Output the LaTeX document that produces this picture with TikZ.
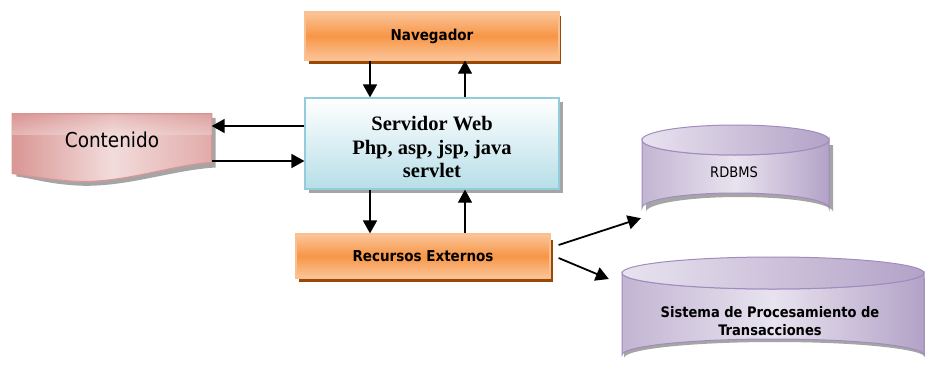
\documentclass[tikz,border=0pt]{standalone}
\usepackage{fontspec}
\setmainfont{Liberation Serif}
\newfontfamily\tah{DejaVu Sans Condensed}
\usetikzlibrary{arrows.meta,calc}
\definecolor{orLight}{HTML}{FBC59A}
\definecolor{orMid}{HTML}{F79646}
\definecolor{orBorder}{HTML}{FAC090}
\definecolor{orShadow}{HTML}{984807}
\definecolor{blBottom}{HTML}{B7DEE8}
\definecolor{blBorder}{HTML}{93CDDD}
\definecolor{pkLight}{HTML}{F2DCDB}
\definecolor{pkDark}{HTML}{D99694}
\definecolor{pkBorder}{HTML}{D99694}
\definecolor{lvLight}{HTML}{E8E3EF}
\definecolor{lvDark}{HTML}{B3A2C7}
\definecolor{lvBorder}{HTML}{A18CBD}
\definecolor{shGray}{HTML}{A5A5A5}
\tikzset{
  obox/.style={draw=orBorder, line width=1.2pt, top color=orLight, bottom color=orLight, middle color=orMid,
    font=\tah\bfseries\fontsize{15}{17}\selectfont, inner sep=0pt},
  arr/.style={-{Triangle[length=13pt,width=14pt]}, line width=1.8pt},
  arrthin/.style={-{Triangle[length=13pt,width=14pt]}, line width=1.1pt},
  ghost/.style={inner sep=0pt, align=center},
}
\begin{document}
\begin{tikzpicture}[x=1pt,y=-1pt]
\useasboundingbox (0,0) rectangle (925,383);
% ---------- Navegador
\fill[orShadow] (309,16) rectangle (561,64);
\node[obox, minimum width=254pt, minimum height=48pt] (nav) at (432,36) {Navegador};
% ---------- Servidor Web
\fill[shGray] (309,102) rectangle (563,193);
\node[draw=blBorder, line width=1.2pt, top color=white, bottom color=blBottom, minimum width=254pt, minimum height=91pt,
  inner sep=0pt] (srv) at (432,143.5) {};
\node[ghost, font=\bfseries\fontsize{20.5}{23.5}\selectfont] (srvtext) at ([yshift=-3.5pt]srv.center)
  {Servidor Web\\Php, asp, jsp, java\\servlet};
% ---------- Contenido
\node[ghost, minimum width=199pt, minimum height=51pt] (cont) at (112,139.5) {};
\fill[shGray] ($(cont.north west)+(4,4)$) -- ($(cont.north east)+(4,4)$) -- ($(cont.east)+(4,28)$)
  .. controls (170,170) and (120,190) .. (70,185) .. controls (45,183) and (30,178) .. ($(cont.west)+(4,37)$) -- cycle;
\shade[left color=pkDark, right color=pkDark!80, middle color=pkLight, draw=pkBorder, line width=1.2pt]
  (cont.north west) -- (cont.north east) -- ($(cont.east)+(0,23)$)
  .. controls (170,165) and (120,185) .. (70,181) .. controls (45,179) and (30,176) .. ($(cont.west)+(0,34)$) -- cycle;
\shade[top color=pkDark, bottom color=pkLight, opacity=0.45]
  (cont.north west) -- (cont.north east) -- ($(cont.east)+(0,-5)$) -- ($(cont.west)+(0,-5)$) -- cycle;
\node[font=\tah\fontsize{20.5}{23}\selectfont] (conttext) at (cont.center) {Contenido};
% ---------- Recursos Externos
\fill[orShadow] (299,240) rectangle (553,282);
\node[obox, minimum width=254pt, minimum height=44pt] (rec) at (423,256) {Recursos Externos};
% ---------- RDBMS cylinder
\node[ghost, minimum width=187pt, minimum height=98pt] (rdb) at (735.5,174) {};
\fill[shGray] (646,145) -- (833,145) -- (833,212) arc[start angle=0,end angle=-180,x radius=93.5,y radius=15] -- cycle;
\shade[left color=lvDark!80, right color=lvDark, middle color=lvLight, draw=lvBorder, line width=1pt]
  (642,140) -- (642,208) arc[start angle=180,end angle=360,x radius=93.5,y radius=15] -- (829,140)
  arc[start angle=0,end angle=180,x radius=93.5,y radius=15] -- cycle;
\shade[left color=lvLight, right color=lvDark, draw=lvBorder, line width=1pt] (735.5,140) ellipse[x radius=93.5,y radius=15];
\node[font=\tah\fontsize{14.5}{17}\selectfont] (rdbtext) at (734,172) {RDBMS};
% ---------- Sistema cylinder
\node[ghost, minimum width=302pt, minimum height=114pt] (sis) at (773,314) {};
\fill[shGray] (626,278) -- (926,278) -- (926,358) arc[start angle=0,end angle=-180,x radius=151,y radius=16] -- cycle;
\shade[left color=lvDark!80, right color=lvDark, middle color=lvLight, draw=lvBorder, line width=1pt]
  (622,273) -- (622,355) arc[start angle=180,end angle=360,x radius=151,y radius=16] -- (924,273)
  arc[start angle=0,end angle=180,x radius=151,y radius=16] -- cycle;
\shade[left color=lvLight, right color=lvDark, draw=lvBorder, line width=1pt] (773,273) ellipse[x radius=151,y radius=16];
\node[align=center, font=\tah\bfseries\fontsize{14.5}{18}\selectfont] (sistext) at (770,321) {Sistema de Procesamiento de\\Transacciones};
% ---------- connectors
\draw[arr] (370,0 |- nav.south) -- (370,0 |- srv.north);
\draw[arrthin] (465,0 |- srv.north) -- (465,0 |- nav.south);
\draw[arr] (srv.west |- 0,126) -- (cont.east |- 0,126);
\draw[arr] (cont.east |- 0,161) -- (srv.west |- 0,161);
\draw[arr] (370,0 |- srv.south) -- (370,0 |- rec.north);
\draw[arrthin] (465,0 |- rec.north) -- (465,0 |- srv.south);
\draw[arr] ([shift={(8pt,11pt)}]rec.east) -- ([shift={(-1pt,5pt)}]rdb.south west);
\draw[arr] ([shift={(8pt,-2pt)}]rec.east) -- ([shift={(-13pt,35pt)}]sis.west);
\end{tikzpicture}
\end{document}
